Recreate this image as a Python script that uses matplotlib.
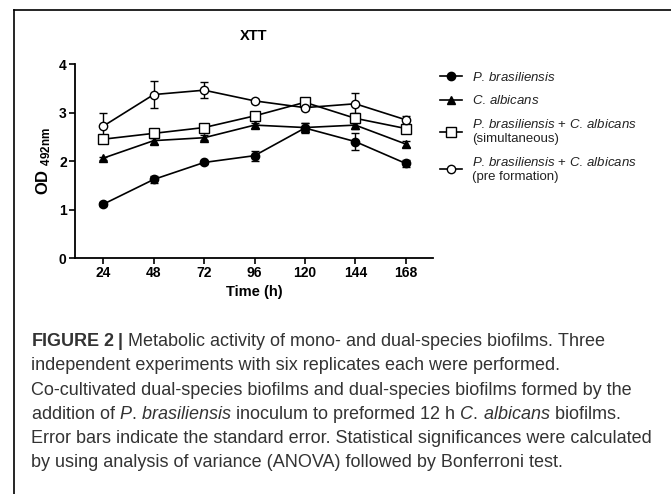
import matplotlib.pyplot as plt
from matplotlib.lines import Line2D

plt.rcParams["font.family"] = ["Liberation Sans", "DejaVu Sans"]
plt.rcParams["mathtext.fontset"] = "custom"
plt.rcParams["mathtext.rm"] = "Liberation Sans"
plt.rcParams["mathtext.it"] = "Liberation Sans:italic"
plt.rcParams["mathtext.bf"] = "Liberation Sans:bold"

# data
hours = [24, 48, 72, 96, 120, 144, 168]
pb = [1.11, 1.62, 1.97, 2.11, 2.68, 2.40, 1.95]
pb_err = [0.04, 0.07, 0.04, 0.10, 0.10, 0.17, 0.08]
ca = [2.06, 2.42, 2.48, 2.74, 2.69, 2.74, 2.35]
ca_err = [0.03, 0.06, 0.05, 0.05, 0.10, 0.08, 0.06]
sim = [2.45, 2.57, 2.69, 2.93, 3.21, 2.88, 2.67]
sim_err = [0.08, 0.06, 0.06, 0.08, 0.05, 0.10, 0.10]
pre = [2.72, 3.37, 3.46, 3.24, 3.10, 3.18, 2.85]
pre_err = [0.26, 0.27, 0.16, 0.04, 0.05, 0.23, 0.08]

PB = r"$\it{P.\,brasiliensis}$"
CA = r"$\it{C.\,albicans}$"
labels = [
    PB,
    CA,
    PB + " + " + CA + "\n(simultaneous)",
    PB + " + " + CA + "\n(pre formation)",
]
ticks = [24, 48, 72, 96, 120, 144, 168]

caption = [
    r"$\bf{FIGURE\;2\;|}$ Metabolic activity of mono- and dual-species biofilms. Three",
    "independent experiments with six replicates each were performed.",
    "Co-cultivated dual-species biofilms and dual-species biofilms formed by the",
    "addition of " + PB + " inoculum to preformed 12 h " + CA + " biofilms.",
    "Error bars indicate the standard error. Statistical significances were calculated",
    "by using analysis of variance (ANOVA) followed by Bonferroni test.",
]

fig = plt.figure(figsize=(6.71, 4.94), dpi=100)
ax = fig.add_axes([75 / 671, 1 - 258 / 494, (433 - 75) / 671, (258 - 64) / 494])

series = [
    (pb, pb_err, dict(marker="o", mfc="black", ms=6)),
    (ca, ca_err, dict(marker="^", mfc="black", ms=6)),
    (sim, sim_err, dict(marker="s", mfc="white", ms=7)),
    (pre, pre_err, dict(marker="o", mfc="white", ms=6)),
]
handles = []
for (vals, err, style), lab in zip(series, labels):
    ax.errorbar(hours, vals, yerr=err, color="black", lw=1.2, capsize=3,
                elinewidth=1.0, capthick=1.0, mec="black", mew=1.0, **style)
    handles.append(Line2D([], [], color="black", lw=1.2, mec="black", mew=1.0, **style))

ax.set_xlim(10.5, 181)
ax.set_ylim(0, 4)
ax.set_xticks(ticks)
ax.set_yticks([0, 1, 2, 3, 4])
ax.spines["top"].set_visible(False)
ax.spines["right"].set_visible(False)
for s in ["left", "bottom"]:
    ax.spines[s].set_linewidth(1.3)
ax.tick_params(width=1.2, length=4, labelsize=10, pad=2)
for t in ax.get_xticklabels() + ax.get_yticklabels():
    t.set_fontweight("bold")
ax.set_xlabel("Time (h)", fontsize=10.5, fontweight="bold", labelpad=3)
ax.set_ylabel(r"OD $\mathbf{_{492nm}}$", fontsize=12, fontweight="bold", labelpad=4)
ax.set_title("XTT", fontsize=10.5, fontweight="bold", pad=17, x=0.5)

fig.legend(handles, labels, loc="upper left", bbox_to_anchor=(433 / 671, 1 - 64 / 494),
           frameon=False, fontsize=9.5, handlelength=1.7, handletextpad=0.75,
           labelspacing=0.82, borderpad=0, labelcolor="#222222")

for i, line in enumerate(caption):
    fig.text(31 / 671, 1 - (342 + 24 * i) / 494, line, fontsize=13.0, color="#333333",
             va="center", ha="left")

fig.add_artist(Line2D([14 / 671, 1], [1 - 10 / 494, 1 - 10 / 494], color="black", lw=1.2))
fig.add_artist(Line2D([14 / 671, 14 / 671], [0, 1 - 10 / 494], color="black", lw=1.2))

fig.savefig("out.png", dpi=100)
